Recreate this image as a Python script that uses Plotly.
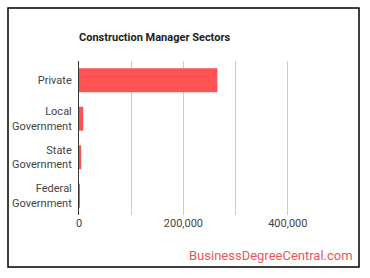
import plotly.graph_objects as go

categories = ["Private", "Local<br>Government", "State<br>Government", "Federal<br>Government"]
values = [265000, 8000, 4000, 1500]
tick_vals = [0, 200000, 400000]
tick_text = ["0", "200,000", "400,000"]

fig = go.Figure(go.Bar(
    y=categories, x=values, orientation="h",
    marker=dict(color="#ff5252", line=dict(width=0)),
    width=0.62,
))

fig.update_layout(
    width=370, height=278,
    margin=dict(l=79, r=30, t=61, b=63),
    paper_bgcolor="white", plot_bgcolor="white",
    font=dict(family="Roboto", size=11, color="#444"),
    showlegend=False,
    title=dict(text="<b>Construction Manager Sectors</b>", x=79/370, xanchor="left",
               y=1 - 37/278, yanchor="middle", font=dict(size=11, color="#222")),
    xaxis=dict(range=[0, 500000], tickvals=[0, 100000, 200000, 300000, 400000],
               ticktext=["0", "", "200,000", "", "400,000"],
               showgrid=True, gridcolor="#cccccc", gridwidth=1, zeroline=False,
               showline=False, ticks="", fixedrange=True),
    yaxis=dict(autorange="reversed", showgrid=False, ticks="", ticklabelstandoff=4,
               showline=True, linecolor="#333", linewidth=1, fixedrange=True),
    shapes=[dict(type="rect", xref="paper", yref="paper",
                 x0=(8 - 79) / 261, x1=(359 - 79) / 261,
                 y0=(215 - 267) / 154, y1=(215 - 8) / 154,
                 line=dict(color="black", width=1.5))],
    annotations=[dict(text="BusinessDegreeCentral.com", xref="paper", yref="paper",
                      x=(355 - 79) / 261, y=(215 - 255) / 154, xanchor="right", yanchor="middle",
                      showarrow=False, font=dict(size=13, color="#e8575a"))],
)

fig.write_html("out.html")
